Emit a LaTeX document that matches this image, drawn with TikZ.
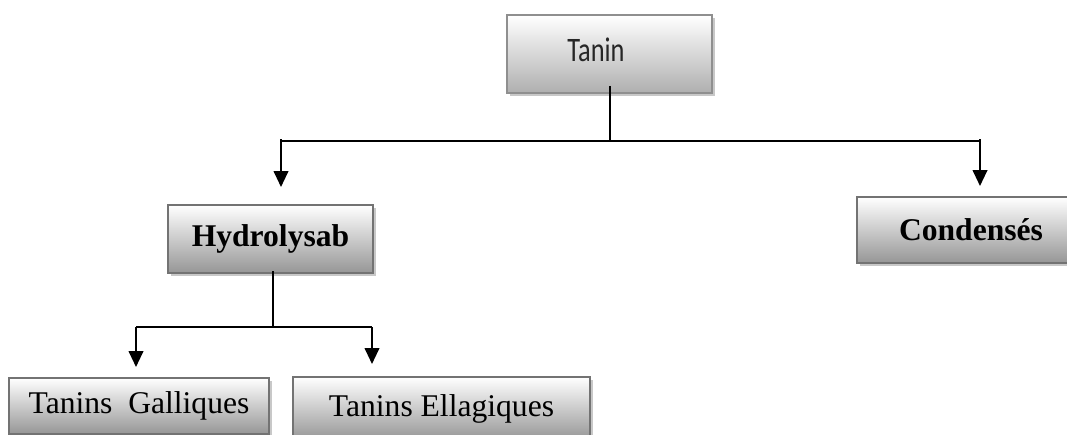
\documentclass[tikz,border=0pt]{standalone}
\usepackage{fontspec}
\setmainfont{Liberation Serif}
\newfontfamily\taninfont{Carlito}
\usetikzlibrary{arrows.meta,shadows}
\definecolor{boxborder}{RGB}{115,115,115}
\definecolor{boxbottom}{RGB}{150,150,150}
\definecolor{boxshadow}{RGB}{200,200,200}
\definecolor{taninbottom}{RGB}{175,175,175}
\begin{document}
\begin{tikzpicture}[x=0.75pt,y=-0.75pt,
  box/.style={rectangle,draw=boxborder,line width=1.5pt,top color=white,bottom color=boxbottom,
    inner sep=0pt,
    drop shadow={shadow xshift=2.6pt,shadow yshift=-2.6pt,fill=boxshadow,opacity=1}},
  boldtxt/.style={font=\fontsize{23.7}{28}\selectfont\bfseries},
  plaintxt/.style={font=\fontsize{23.7}{28}\selectfont},
  conn/.style={line width=1.5pt,black},
  arr/.style={conn,-{Triangle[width=11pt,length=12pt]}}]
\useasboundingbox (0,0) rectangle (1067,435);
% boxes
\node[box,draw=boxborder!80,bottom color=taninbottom,minimum width=153.75pt,minimum height=58.5pt,
  font=\taninfont\fontsize{19.8}{22}\selectfont,text=black!85] (tanin) at (609.5,54)
  {\hspace*{-20.25pt}\raisebox{7pt}{\scalebox{1}[1.3]{Tanin}}};
\node[box,boldtxt,minimum width=153.75pt,minimum height=51pt] (hydro) at (270.5,239) {Hydrolysab};
\node[box,boldtxt,minimum width=171pt,minimum height=49.5pt] (cond) at (971,230) {Condensés};
\node[box,plaintxt,minimum width=195pt,minimum height=42pt] (gall) at (139,406) {Tanins\ \ Galliques};
\node[box,plaintxt,minimum width=222.75pt,minimum height=47.25pt] (ell) at (441.5,408.5) {Tanins Ellagiques};
% junctions
\coordinate (j1) at (610,141);
\coordinate (jl) at (281,141);
\coordinate (jr) at (980,141);
\coordinate (j2) at (273,327);
\coordinate (jgl) at (136,327);
\coordinate (jgr) at (372,327);
% connectors
\draw[conn] ([yshift=6pt]tanin.south -| j1) -- (j1);
\draw[conn] (jl) -- (jr);
\draw[arr,shorten >=12.75pt] ([yshift=1.5pt]jl) -- (jl |- hydro.north);
\draw[arr,shorten >=7.5pt] ([yshift=1.5pt]jr) -- (jr |- cond.north);
\draw[conn] ([yshift=2pt]hydro.south -| j2) -- (j2);
\draw[conn] (jgl) -- (jgr);
\draw[arr,shorten >=7.5pt] (jgl) -- (jgl |- gall.north);
\draw[arr,shorten >=9pt] (jgr) -- (jgr |- ell.north);
\end{tikzpicture}
\end{document}
